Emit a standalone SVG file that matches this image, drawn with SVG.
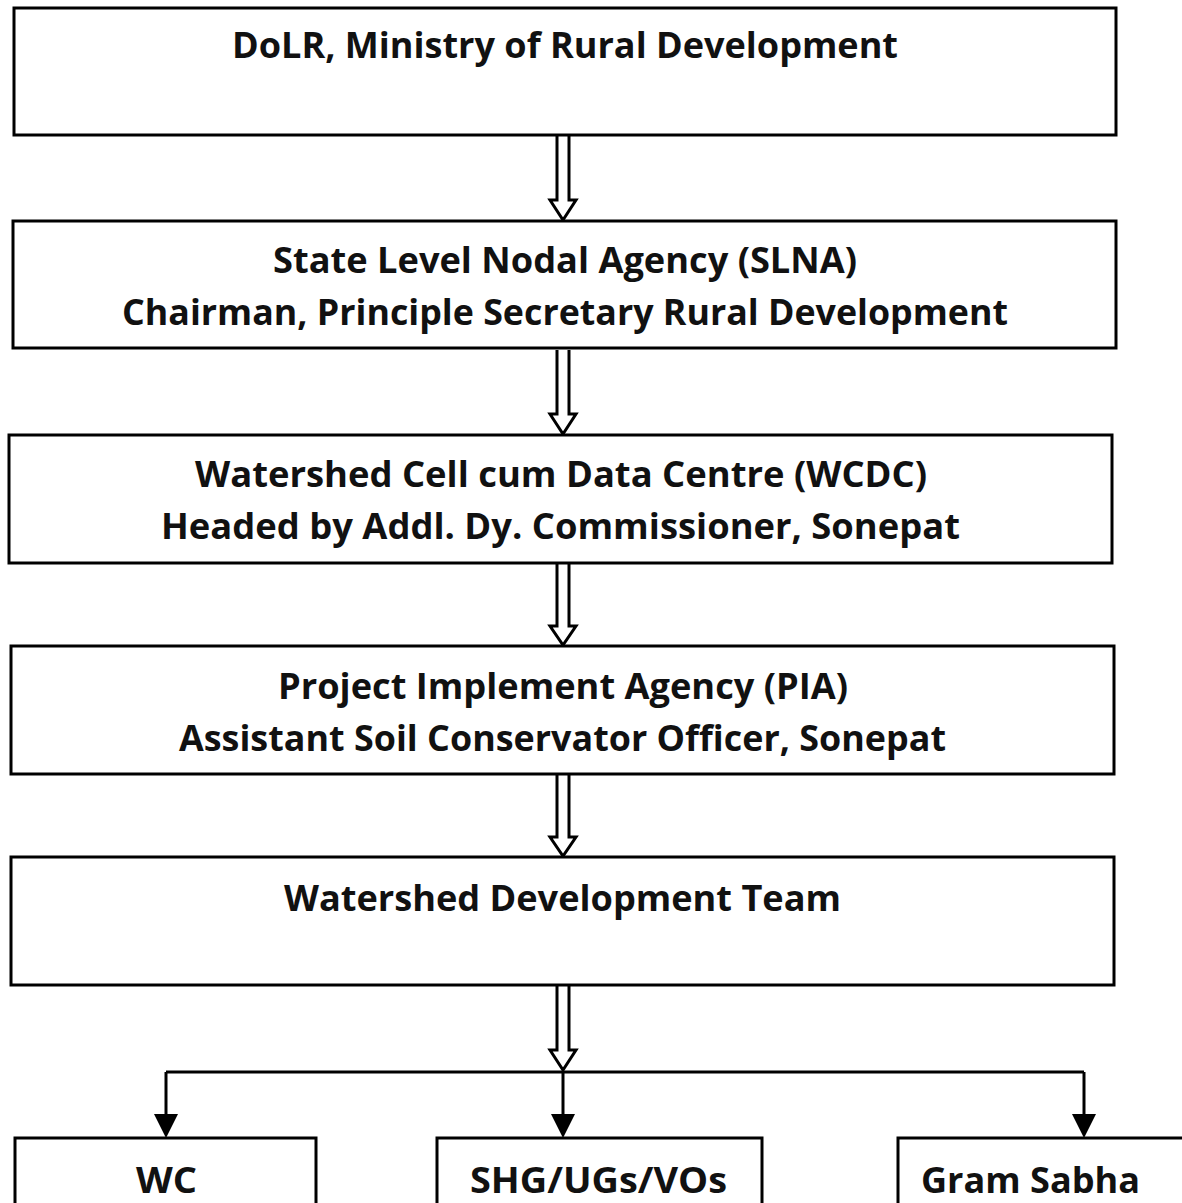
<svg xmlns="http://www.w3.org/2000/svg" width="1182" height="1203" viewBox="0 0 1182 1203">
<defs>
<style>
.box{fill:#fff;stroke:#000;stroke-width:3}
.t{font-family:"Open Sans","Liberation Sans",sans-serif;font-weight:bold;font-size:36px;fill:#111;text-anchor:middle}
.hollow{fill:#fff;stroke:#000;stroke-width:3;stroke-linejoin:miter}
.line{fill:none;stroke:#000;stroke-width:3}
</style>
</defs>
<rect width="1182" height="1203" fill="#fff"/>
<g id="connectors">
<path class="hollow" d="M557,136 V200 H550 L563,220 L576,200 H569 V136"/>
<path class="hollow" d="M557,350 V414 H550 L563,434 L576,414 H569 V350"/>
<path class="hollow" d="M557,564 V626 H550 L563,645 L576,626 H569 V564"/>
<path class="hollow" d="M557,775 V837 H550 L563,856 L576,837 H569 V775"/>
<path class="hollow" d="M557,986 V1050 H550 L563,1070 L576,1050 H569 V986"/>
<path class="line" d="M166,1072 H1084"/>
<path class="line" d="M166,1072 V1116"/>
<path class="line" d="M563,1072 V1116"/>
<path class="line" d="M1084,1072 V1116"/>
<path d="M154,1114 L178,1114 L166,1138 Z" fill="#000"/>
<path d="M551,1114 L575,1114 L563,1138 Z" fill="#000"/>
<path d="M1072,1114 L1096,1114 L1084,1138 Z" fill="#000"/>
</g>
<g id="dolr">
<rect class="box" x="14" y="8" width="1102" height="127"/>
<text class="t" x="565" y="58" textLength="666" lengthAdjust="spacingAndGlyphs">DoLR, Ministry of Rural Development</text>
</g>
<g id="slna">
<rect class="box" x="13" y="221" width="1103" height="127"/>
<text class="t" x="565" y="273" textLength="584" lengthAdjust="spacingAndGlyphs">State Level Nodal Agency (SLNA)</text>
<text class="t" x="565" y="325" textLength="886" lengthAdjust="spacingAndGlyphs">Chairman, Principle Secretary Rural Development</text>
</g>
<g id="wcdc">
<rect class="box" x="9" y="435" width="1103" height="128"/>
<text class="t" x="561" y="487" textLength="732" lengthAdjust="spacingAndGlyphs">Watershed Cell cum Data Centre (WCDC)</text>
<text class="t" x="560.5" y="539" textLength="799" lengthAdjust="spacingAndGlyphs">Headed by Addl. Dy. Commissioner, Sonepat</text>
</g>
<g id="pia">
<rect class="box" x="11" y="646" width="1103" height="128"/>
<text class="t" x="563" y="699" textLength="570" lengthAdjust="spacingAndGlyphs">Project Implement Agency (PIA)</text>
<text class="t" x="562.5" y="751" textLength="767" lengthAdjust="spacingAndGlyphs">Assistant Soil Conservator Officer, Sonepat</text>
</g>
<g id="wdt">
<rect class="box" x="11" y="857" width="1103" height="128"/>
<text class="t" x="562.5" y="911" textLength="557" lengthAdjust="spacingAndGlyphs">Watershed Development Team</text>
</g>
<g id="wc">
<rect class="box" x="15" y="1138" width="301" height="80"/>
<text class="t" x="166.5" y="1193" textLength="61" lengthAdjust="spacingAndGlyphs">WC</text>
</g>
<g id="shg">
<rect class="box" x="437" y="1138" width="325" height="80"/>
<text class="t" x="598.5" y="1193" textLength="257" lengthAdjust="spacingAndGlyphs">SHG/UGs/VOs</text>
</g>
<g id="gram">
<rect class="box" x="898" y="1138" width="300" height="80"/>
<text class="t" x="1030.5" y="1193" textLength="219" lengthAdjust="spacingAndGlyphs">Gram Sabha</text>
</g>
</svg>
